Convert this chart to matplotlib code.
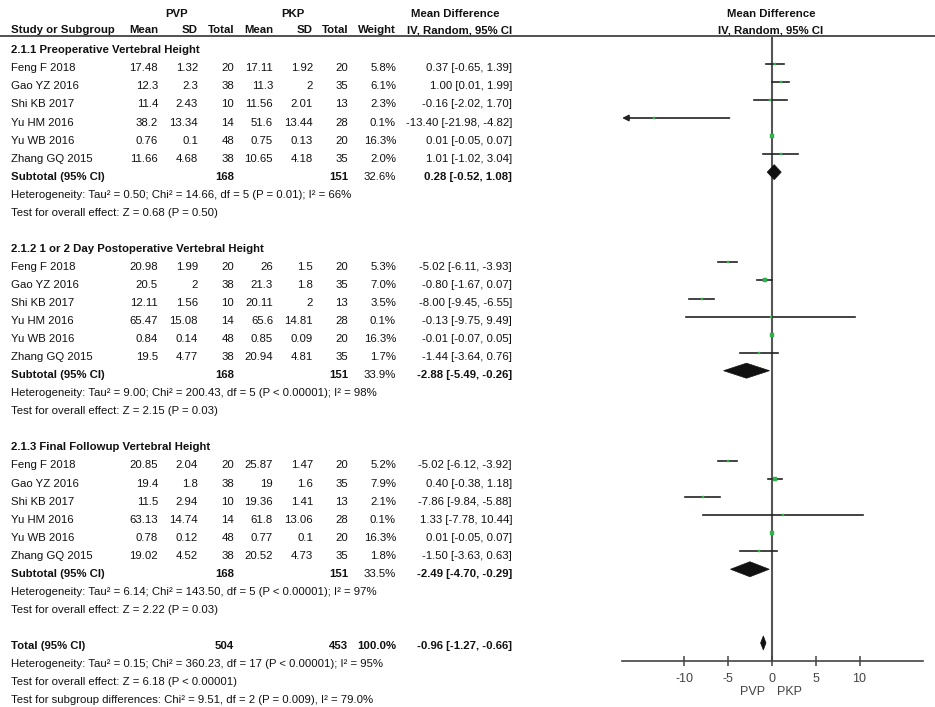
import matplotlib
matplotlib.use('Agg')
import matplotlib.pyplot as plt
from matplotlib import font_manager
from matplotlib.patches import Polygon

plt.rcParams['axes.unicode_minus'] = False

# ---------------- data ----------------
studies = ['Feng F 2018', 'Gao YZ 2016', 'Shi KB 2017', 'Yu HM 2016', 'Yu WB 2016', 'Zhang GQ 2015']
group_titles = ['2.1.1 Preoperative Vertebral Height',
                '2.1.2 1 or 2 Day Postoperative Vertebral Height',
                '2.1.3 Final Followup Vertebral Height']

pvp_mean = [['17.48', '12.3', '11.4', '38.2', '0.76', '11.66'],
            ['20.98', '20.5', '12.11', '65.47', '0.84', '19.5'],
            ['20.85', '19.4', '11.5', '63.13', '0.78', '19.02']]
pvp_sd = [['1.32', '2.3', '2.43', '13.34', '0.1', '4.68'],
          ['1.99', '2', '1.56', '15.08', '0.14', '4.77'],
          ['2.04', '1.8', '2.94', '14.74', '0.12', '4.52']]
pvp_n = [[20, 38, 10, 14, 48, 38]] * 3
pkp_mean = [['17.11', '11.3', '11.56', '51.6', '0.75', '10.65'],
            ['26', '21.3', '20.11', '65.6', '0.85', '20.94'],
            ['25.87', '19', '19.36', '61.8', '0.77', '20.52']]
pkp_sd = [['1.92', '2', '2.01', '13.44', '0.13', '4.18'],
          ['1.5', '1.8', '2', '14.81', '0.09', '4.81'],
          ['1.47', '1.6', '1.41', '13.06', '0.1', '4.73']]
pkp_n = [[20, 35, 13, 28, 20, 35]] * 3
weight = [[5.8, 6.1, 2.3, 0.1, 16.3, 2.0],
          [5.3, 7.0, 3.5, 0.1, 16.3, 1.7],
          [5.2, 7.9, 2.1, 0.1, 16.3, 1.8]]
md = [[0.37, 1.00, -0.16, -13.40, 0.01, 1.01],
      [-5.02, -0.80, -8.00, -0.13, -0.01, -1.44],
      [-5.02, 0.40, -7.86, 1.33, 0.01, -1.50]]
ci_lo = [[-0.65, 0.01, -2.02, -21.98, -0.05, -1.02],
         [-6.11, -1.67, -9.45, -9.75, -0.07, -3.64],
         [-6.12, -0.38, -9.84, -7.78, -0.05, -3.63]]
ci_hi = [[1.39, 1.99, 1.70, -4.82, 0.07, 3.04],
         [-3.93, 0.07, -6.55, 9.49, 0.05, 0.76],
         [-3.92, 1.18, -5.88, 10.44, 0.07, 0.63]]

sub_pvp_n = [168, 168, 168]
sub_pkp_n = [151, 151, 151]
sub_weight = [32.6, 33.9, 33.5]
sub_md = [0.28, -2.88, -2.49]
sub_lo = [-0.52, -5.49, -4.70]
sub_hi = [1.08, -0.26, -0.29]
sub_het = ['Heterogeneity: Tau\u00b2 = 0.50; Chi\u00b2 = 14.66, df = 5 (P = 0.01); I\u00b2 = 66%',
           'Heterogeneity: Tau\u00b2 = 9.00; Chi\u00b2 = 200.43, df = 5 (P < 0.00001); I\u00b2 = 98%',
           'Heterogeneity: Tau\u00b2 = 6.14; Chi\u00b2 = 143.50, df = 5 (P < 0.00001); I\u00b2 = 97%']
sub_test = ['Test for overall effect: Z = 0.68 (P = 0.50)',
            'Test for overall effect: Z = 2.15 (P = 0.03)',
            'Test for overall effect: Z = 2.22 (P = 0.03)']

total_pvp_n = 504
total_pkp_n = 453
total_weight = 100.0
total_md, total_lo, total_hi = -0.96, -1.27, -0.66
total_notes = ['Heterogeneity: Tau\u00b2 = 0.15; Chi\u00b2 = 360.23, df = 17 (P < 0.00001); I\u00b2 = 95%',
               'Test for overall effect: Z = 6.18 (P < 0.00001)',
               'Test for subgroup differences: Chi\u00b2 = 9.51, df = 2 (P = 0.009), I\u00b2 = 79.0%']

x_ticks = [-10, -5, 0, 5, 10]
axis_labels = ['PVP', 'PKP']

# ---------------- style ----------------
names = {f.name for f in font_manager.fontManager.ttflist}
if 'Liberation Sans Narrow' in names:
    FAM, FS = 'Liberation Sans Narrow', 9.4
else:
    FAM, FS = 'Liberation Sans', 8.2
TXT = '#111111'
GREEN = '#2fb34a'

fig = plt.figure(figsize=(9.35, 7.07), dpi=100)
tax = fig.add_axes([0, 0, 1, 1])
tax.set_xlim(0, 935)
tax.set_ylim(707, 0)
tax.axis('off')


def t(x, y, s, ha='right', bold=False, **kw):
    tax.text(x, y, s, ha=ha, va='baseline', fontsize=FS, family=FAM,
             fontweight='bold' if bold else 'normal', color=TXT, **kw)


# column positions (right edges)
X_STUDY, X_M1, X_S1, X_N1, X_M2, X_S2, X_N2, X_W, X_CI = 11, 158, 198, 234, 273, 313, 348, 396, 512

# headers
t(177, 16.8, 'PVP', ha='center', bold=True)
t(293, 16.8, 'PKP', ha='center', bold=True)
t(455, 16.8, 'Mean Difference', ha='center', bold=True)
t(771, 16.8, 'Mean Difference', ha='center', bold=True)
t(771, 33.3, 'IV, Random, 95% CI', ha='center', bold=True)
t(X_STUDY, 33.3, 'Study or Subgroup', ha='left', bold=True)
for x, s in [(X_M1, 'Mean'), (X_S1, 'SD'), (X_N1, 'Total'), (X_M2, 'Mean'),
             (X_S2, 'SD'), (X_N2, 'Total'), (X_W, 'Weight'), (X_CI, 'IV, Random, 95% CI')]:
    t(x, 33.3, s, bold=True)
tax.plot([0, 935], [36, 36], color='#333333', lw=1.2)

LINE, Y0 = 18.05, 53.3


def yb(k):
    return Y0 + LINE * k


def ci_str(m, lo, hi):
    return '%.2f [%.2f, %.2f]' % (m, lo, hi)


# forest axes
XL, XR = -17.1, 17.2
fax = fig.add_axes([621.7 / 935, 0, 301 / 935, 1])
fax.set_xlim(XL, XR)
fax.set_ylim(707, 0)
fax.patch.set_alpha(0)
for sp in ['top', 'left', 'right']:
    fax.spines[sp].set_visible(False)
fax.spines['bottom'].set_position(('data', 661))
fax.spines['bottom'].set_color('#444444')
fax.spines['bottom'].set_linewidth(1.2)
fax.set_yticks([])
fax.set_xticks(x_ticks)
fax.set_xticklabels([str(v) for v in x_ticks], family='Liberation Sans', fontsize=9, color='#444444')
fax.tick_params(axis='x', direction='inout', length=7, width=1.1, color='#444444', pad=5)
fax.plot([0, 0], [36, 661], color='#555555', lw=1.5, zorder=1)
fax.text(-2.16, 695, axis_labels[0], ha='center', va='baseline', family='Liberation Sans', fontsize=9, color='#444444')
fax.text(2.0, 695, axis_labels[1], ha='center', va='baseline', family='Liberation Sans', fontsize=9, color='#444444')

MOFF = 7.5


def diamond(m, lo, hi, yc, h=7.5):
    fax.add_patch(Polygon([(lo, yc), (m, yc - h), (hi, yc), (m, yc + h)], closed=True,
                          facecolor='#111111', edgecolor='#111111', lw=0.5, zorder=3))


for g in range(3):
    k0 = 11 * g
    t(X_STUDY, yb(k0), group_titles[g], ha='left', bold=True)
    for i, name in enumerate(studies):
        y = yb(k0 + 1 + i)
        t(X_STUDY, y, name, ha='left')
        t(X_M1, y, pvp_mean[g][i])
        t(X_S1, y, pvp_sd[g][i])
        t(X_N1, y, str(pvp_n[g][i]))
        t(X_M2, y, pkp_mean[g][i])
        t(X_S2, y, pkp_sd[g][i])
        t(X_N2, y, str(pkp_n[g][i]))
        t(X_W, y, '%.1f%%' % weight[g][i])
        t(X_CI, y, ci_str(md[g][i], ci_lo[g][i], ci_hi[g][i]))
        ym = y - MOFF
        lo, hi = ci_lo[g][i], ci_hi[g][i]
        if lo < XL:
            fax.annotate('', xy=(XL + 0.05, ym), xytext=(hi, ym),
                         arrowprops=dict(arrowstyle='-|>', color='#222222', lw=1.2,
                                         mutation_scale=9, shrinkA=0, shrinkB=0))
        else:
            fax.plot([lo, hi], [ym, ym], color='#222222', lw=1.2, zorder=2)
        ms = max(1.8, 0.85 * weight[g][i] ** 0.5)
        fax.plot(md[g][i], ym, marker='s', ms=ms, color=GREEN, mec=GREEN, mew=0.3, zorder=4)
    ys = yb(k0 + 7)
    t(X_STUDY, ys, 'Subtotal (95% CI)', ha='left', bold=True)
    t(X_N1, ys, str(sub_pvp_n[g]), bold=True)
    t(X_N2, ys, str(sub_pkp_n[g]), bold=True)
    t(X_W, ys, '%.1f%%' % sub_weight[g])
    t(X_CI, ys, ci_str(sub_md[g], sub_lo[g], sub_hi[g]), bold=True)
    diamond(sub_md[g], sub_lo[g], sub_hi[g], ys - MOFF)
    t(X_STUDY, yb(k0 + 8), sub_het[g], ha='left')
    t(X_STUDY, yb(k0 + 9), sub_test[g], ha='left')

yt = yb(33)
t(X_STUDY, yt, 'Total (95% CI)', ha='left', bold=True)
t(X_N1, yt, str(total_pvp_n), bold=True)
t(X_N2, yt, str(total_pkp_n), bold=True)
t(X_W, yt, '%.1f%%' % total_weight, bold=True)
t(X_CI, yt, ci_str(total_md, total_lo, total_hi), bold=True)
diamond(total_md, total_lo, total_hi, yt - 6, h=7)
for j, s in enumerate(total_notes):
    t(X_STUDY, yb(34 + j), s, ha='left')

fig.savefig('out.png', dpi=100, facecolor='white')
